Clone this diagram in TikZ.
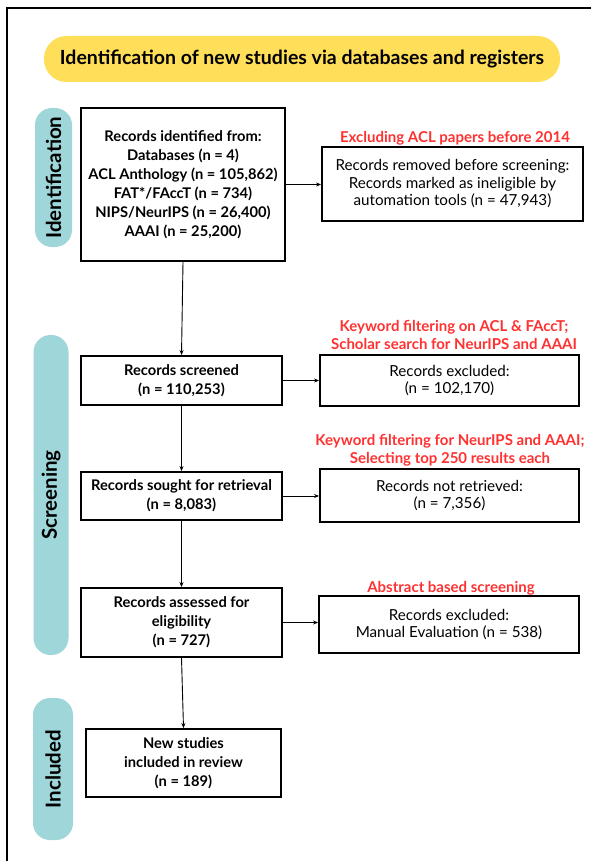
\documentclass[tikz,border=0pt]{standalone}
\usepackage{fontspec}
\setmainfont{Lato}
\usetikzlibrary{arrows.meta}
\definecolor{pillteal}{HTML}{9ED6D9}
\definecolor{titleyellow}{HTML}{FFDE59}
\definecolor{notered}{HTML}{FF3131}

\begin{document}
\begin{tikzpicture}[x=1pt,y=-1pt,
    box/.style={draw,line width=1.8pt,align=center,inner sep=0pt},
    bbox/.style={box,font=\bfseries\fontsize{14.7}{19}\selectfont},
    rbox/.style={box,font=\fontsize{15.2}{17.5}\selectfont},
    pill/.style={fill=pillteal,rounded corners=17pt,rotate=90,inner sep=0pt,font=\bfseries\fontsize{20.5}{20.5}\selectfont},
    note/.style={text=notered,align=center,font=\bfseries\fontsize{15}{18.5}\selectfont},
    arr/.style={-{Stealth[length=5pt,width=4pt]},line width=0.9pt}]
    \useasboundingbox (0,0) rectangle (591,861);
    \draw[line width=1.2pt] (7,861) -- (7,8) -- (591,8);
    \node[fill=titleyellow,rounded corners=22.5pt,minimum width=516pt,minimum height=46pt,
        font=\bfseries\fontsize{19.5}{22}\selectfont] (title) at (302,59) {Identification of new studies via databases and registers};
    % phase pills
    \node[pill,minimum width=139pt,minimum height=37pt] (idpill) at (53.5,177.5) {Identification};
    \node[pill,minimum width=320pt,minimum height=35pt] (scrpill) at (51,495) {Screening};
    \node[pill,minimum width=142pt,minimum height=40pt] (incpill) at (53,769) {Included};
    % left column
    \node[bbox,minimum width=204pt,minimum height=153pt] (records) at (183,184.5) {Records identified from:\\Databases (n = 4)\\ACL Anthology (n = 105,862)\\FAT*/FAccT (n = 734)\\NIPS/NeurIPS (n = 26,400)\\AAAI (n = 25,200)};
    \node[bbox,minimum width=201pt,minimum height=49pt] (screened) at (181.5,380.5) {Records screened\\(n = 110,253)};
    \node[bbox,minimum width=201pt,minimum height=48pt] (sought) at (181.5,496) {Records sought for retrieval\\(n = 8,083)};
    \node[bbox,minimum width=201pt,minimum height=69pt] (assessed) at (181.5,622.5) {Records assessed for\\eligibility\\(n = 727)};
    \node[bbox,minimum width=195pt,minimum height=68pt] (included) at (183.5,763) {New studies\\included in review\\(n = 189)};
    % right column
    \node[rbox,minimum width=261pt,minimum height=74pt] (removed) at (452.5,184) {Records removed before screening:\\Records marked as ineligible by\\automation tools (n = 47,943)};
    \node[rbox,minimum width=259pt,minimum height=51pt] (excluded) at (449.5,380.5) {Records excluded:\\(n = 102,170)};
    \node[rbox,minimum width=259pt,minimum height=53pt] (notretrieved) at (449.5,495.5) {Records not retrieved:\\(n = 7,356)};
    \node[rbox,minimum width=260pt,minimum height=57pt] (manual) at (449,624.5) {Records excluded:\\Manual Evaluation (n = 538)};
    % red notes
    \node[note] (noteacl) at (455,138) {Excluding ACL papers before 2014};
    \node[note] (notekw) at (454,335) {Keyword filtering on ACL \& FAccT;\\Scholar search for NeurIPS and AAAI};
    \node[note] (notetop) at (450,450.5) {Keyword filtering for NeurIPS and AAAI;\\Selecting top 250 results each};
    \node[note] (noteabs) at (451,588) {Abstract based screening};
    % arrows
    \foreach \a/\b in {records/screened,screened/sought,sought/assessed,assessed/included} {
        \draw[arr] (\a.south) -- (\b.north);
    }
    \foreach \a/\b in {records/removed,screened/excluded,sought/notretrieved,assessed/manual} {
        \draw[arr] (\a.east) -- (\a.east -| \b.west);
    }
\end{tikzpicture}
\end{document}
